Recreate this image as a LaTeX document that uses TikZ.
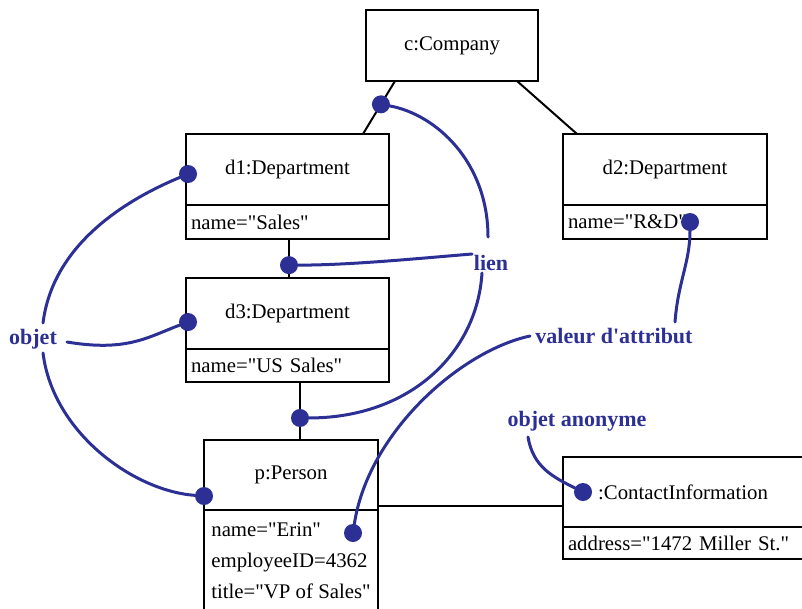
\documentclass[tikz,border=0pt]{standalone}
\usepackage{fontspec}
\setmainfont{Liberation Serif}[Ligatures=TeXOff]
\usetikzlibrary{positioning,calc}
\definecolor{Ink}{RGB}{44,47,148}
\tikzset{
  ohead/.style={rectangle,draw=black,line width=2pt,fill=white,outer sep=0pt,
                font=\fontsize{20.8}{25}\selectfont,minimum height=71pt,inner sep=4pt},
  oattr/.style={ohead,align=left,inner xsep=5pt,minimum height=34pt},
  olink/.style={black,line width=2pt},
  pin/.style={circle,fill=Ink,minimum size=18pt,inner sep=0pt,outer sep=0pt},
  remark/.style={text=Ink,font=\fontsize{22}{26}\selectfont\bfseries,inner sep=0pt},
  callout/.style={Ink,line width=3pt,line cap=round},
}

\begin{document}
\begin{tikzpicture}[x=1pt,y=-1pt]
  \useasboundingbox (0,0) rectangle (802,608);
  \clip (0,0) rectangle (802,608);

  % objects
  \node[ohead,minimum width=172pt] (comp) at (452,45.5) {c:Company};
  \node[ohead,minimum width=203pt] (d1) at (287.5,169.5) {d1:Department};
  \node[oattr,below=0pt of d1,text width=193pt] (d1a) {name="Sales"};
  \node[ohead,minimum width=204pt] (d2) at (665,169.5) {d2:Department};
  \node[oattr,below=0pt of d2,text width=194pt] (d2a) {name="R\&D"};
  \node[ohead,minimum width=203pt] (d3) at (287.5,313.5) {d3:Department};
  \node[oattr,below=0pt of d3,text width=193pt,minimum height=33pt] (d3a) {name="US Sales"};
  \node[ohead,minimum width=174pt,minimum height=70pt] (p) at (291,475) {p:Person};
  % widest line sets the block, centred in the box
  \node[oattr,below=0pt of p,minimum width=174pt,minimum height=101pt,
        font=\fontsize{20.8}{31}\selectfont] (pa)
       {name="Erin"\\employeeID=4362\\title="VP of Sales"};
  \node[ohead,minimum width=240pt,minimum height=70pt] (ci) at (683,492) {:ContactInformation};
  \node[oattr,below=0pt of ci,text width=230pt,minimum height=32pt] (cia) {address="1472 Miller St."};

  % links
  \draw[olink] ([xshift=29pt]comp.south west) -- node[pin,pos=.44] (k1) {} ([xshift=-26pt]d1.north east);
  \draw[olink] ([xshift=-21pt]comp.south east) -- ([xshift=14pt]d2.north west);
  \draw[olink] ([xshift=1.5pt]d1a.south) -- node[pin,pos=.67] (k2) {} ([xshift=1.5pt]d1a.south |- d3.north);
  \draw[olink] ([xshift=9pt]p.north |- d3a.south) -- node[pin,pos=.62] (k3) {} ([xshift=9pt]p.north);
  \draw[olink] ([yshift=4pt]p.south east) -- ([yshift=4pt]p.south east -| ci.west);

  % pins on the objects
  \node[pin] (e1) at ([xshift=2pt,yshift=-4.5pt]d1.west) {};
  \node[pin] (e3) at ([xshift=2pt,yshift=-8.5pt]d3.west) {};
  \node[pin] (ep) at ([yshift=-21pt]p.west) {};
  \node[pin] (vp) at ([xshift=-25pt,yshift=-23pt]p.south east) {};
  \node[pin] (vd2) at ([xshift=-77pt]d2a.east) {};
  \node[pin] (eci) at ([xshift=20pt]ci.west) {};

  % remarks
  \node[remark] (lien) at (491,263) {lien};
  \node[remark] (objet) at (33,339) {objet};
  \node[remark] (valeur) at (614,336) {valeur d\textquotesingle attribut};
  \node[remark] (anon) at (577,421) {objet anonyme};

  \draw[callout] (k1) .. controls +(55,10) and +(0,-75) .. ([shift={(-3,-26)}]lien.center);
  \draw[callout] ([shift={(-19,-9)}]lien.center) .. controls +(-60,5) and +(60,0) .. (k2);
  \draw[callout] ([shift={(-9,10)}]lien.center) .. controls +(-5,80) and +(110,0) .. (k3);
  \draw[callout] ([shift={(10,-16)}]objet.center) .. controls +(10,-80) and +(-60,25) .. (e1);
  \draw[callout] ([shift={(34,3)}]objet.center) .. controls +(60,10) and +(-40,15) .. (e3);
  \draw[callout] ([shift={(10,14)}]objet.center) .. controls +(10,80) and +(-70,-5) .. (ep);
  \draw[callout] ([shift={(-84,0)}]valeur.center) .. controls +(-70,15) and +(15,-100) .. (vp);
  \draw[callout] (vd2) .. controls +(0,40) and +(3,-40) .. ([shift={(61,-14)}]valeur.center);
  \draw[callout] ([shift={(-49,16)}]anon.center) .. controls +(5,30) and +(-30,-15) .. (eci);
\end{tikzpicture}
\end{document}
